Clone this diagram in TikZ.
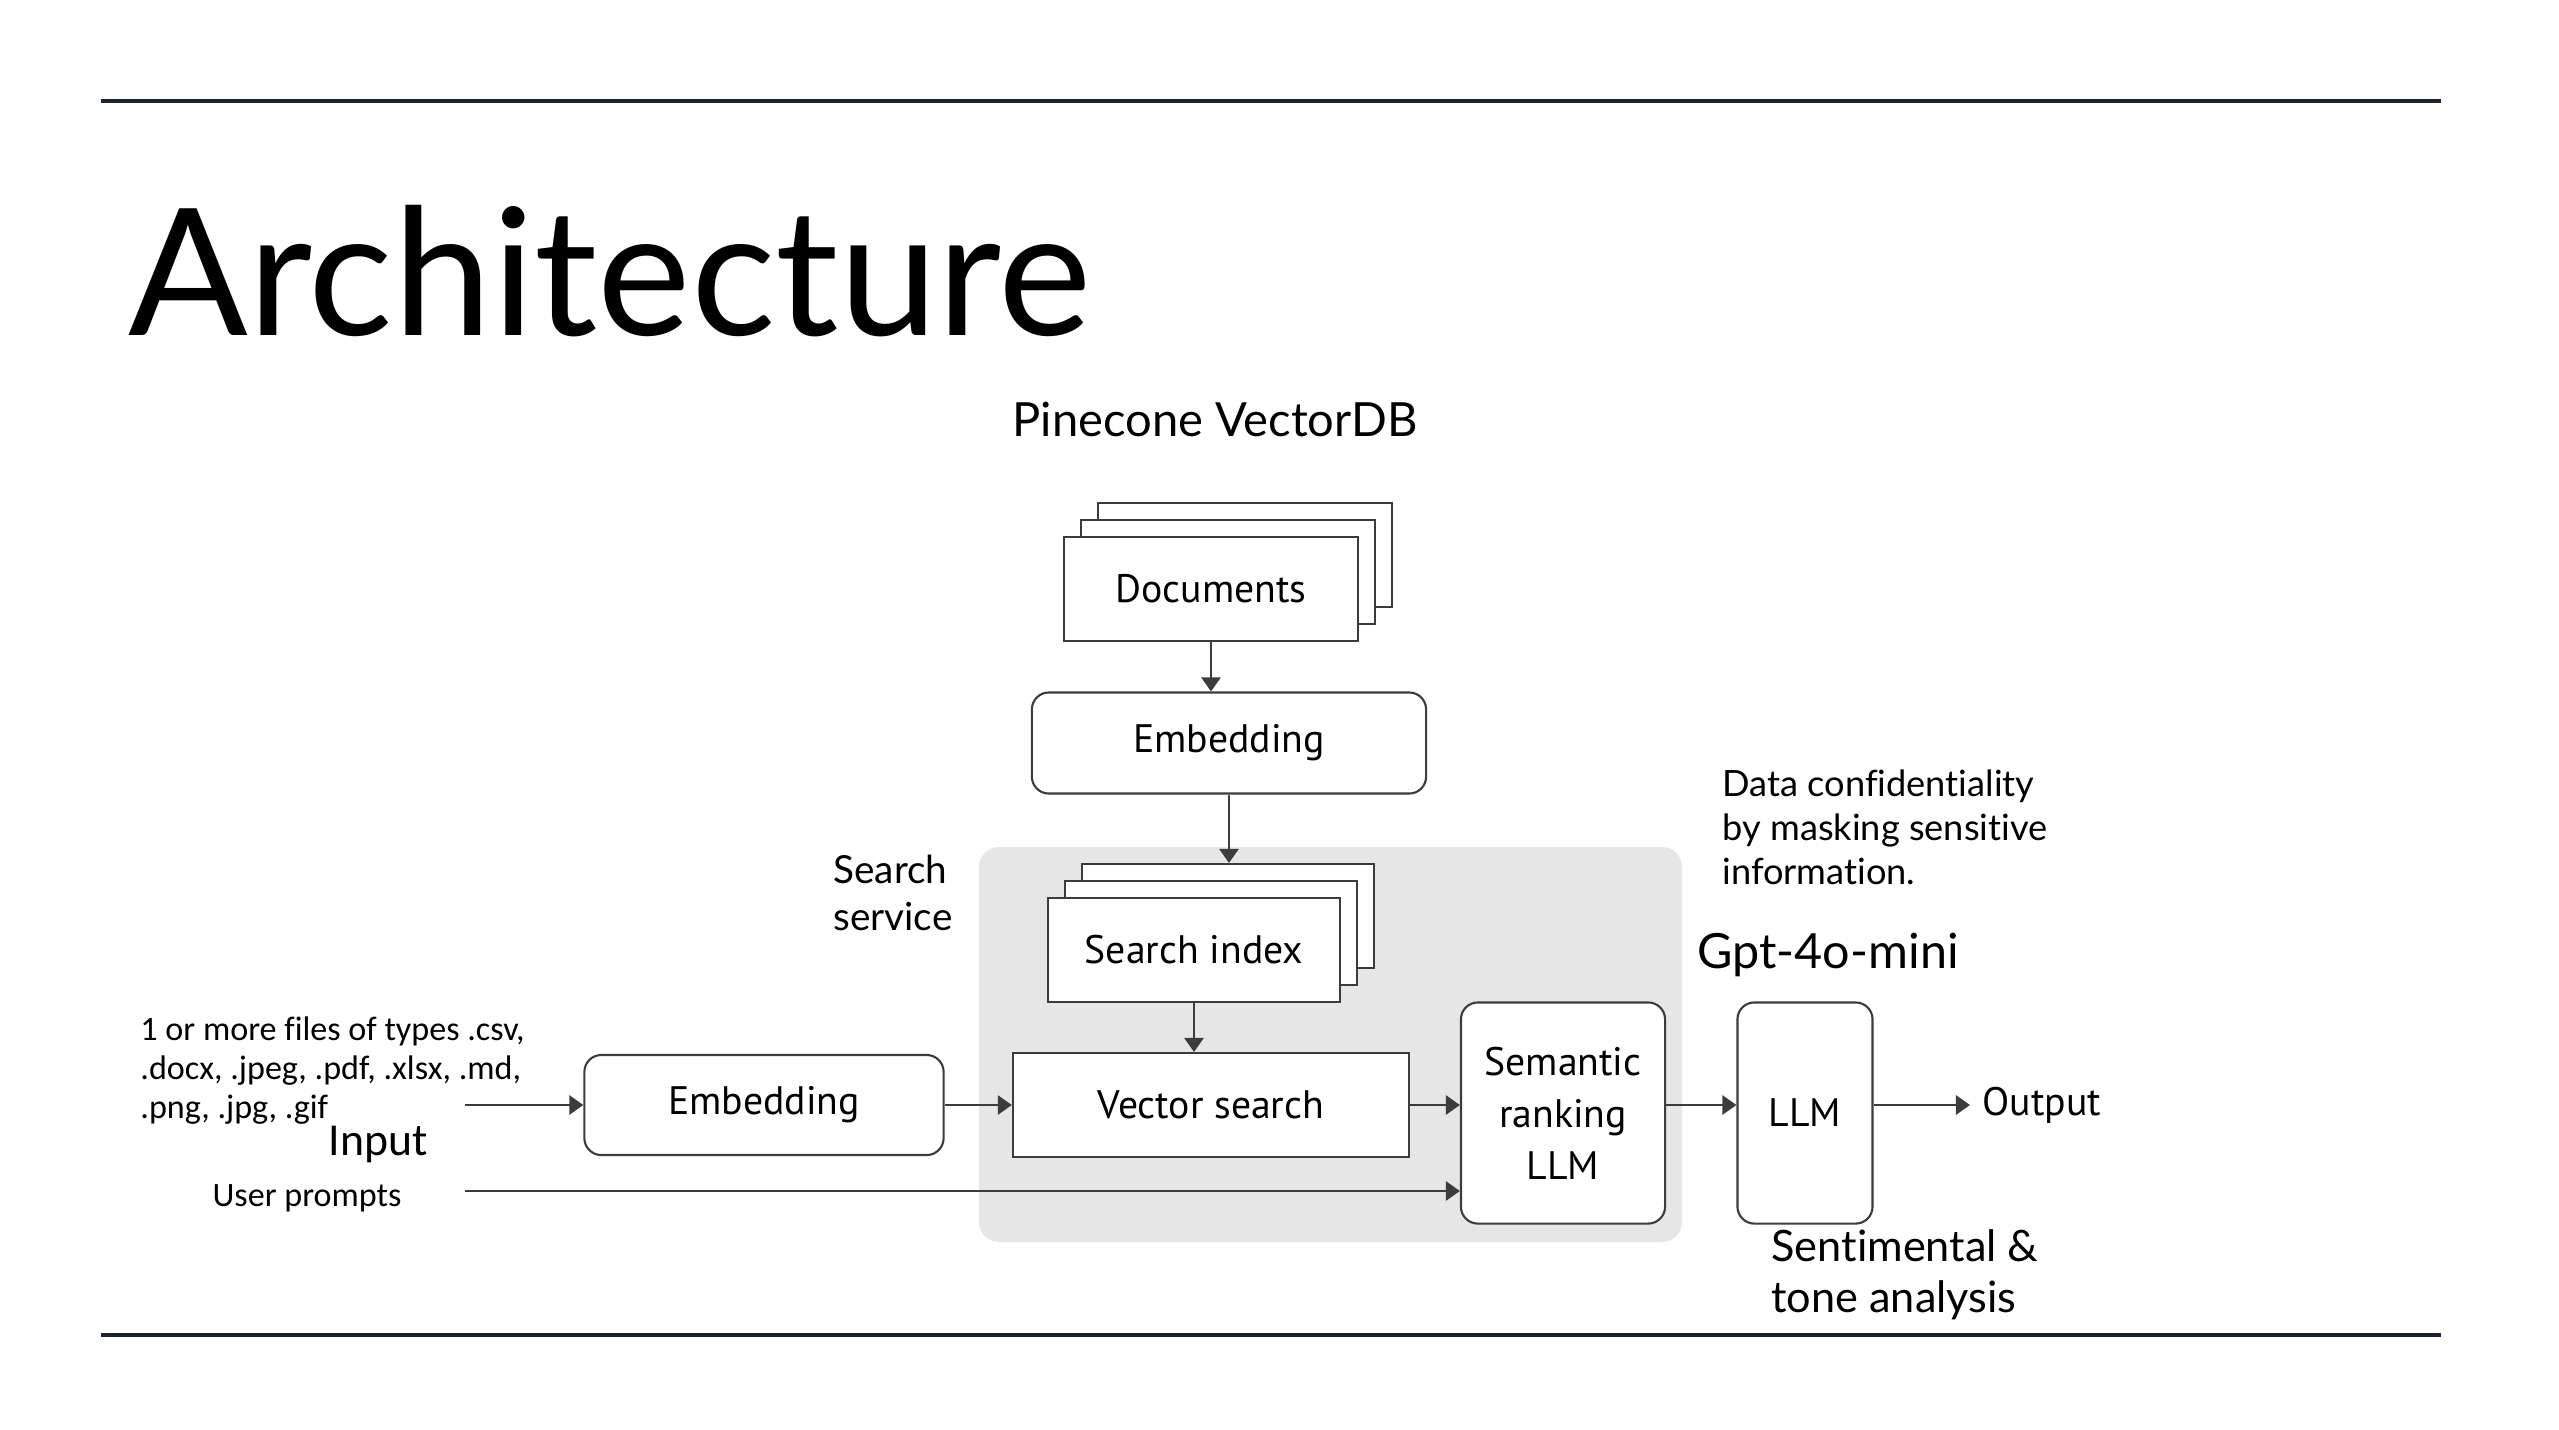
\documentclass[tikz,border=0pt]{standalone}
\usepackage{fontspec}
\setmainfont{Lato}[Ligatures=NoCommon]
\newfontfamily\boxfont{PT Sans}
\newfontfamily\notefont{Carlito}[Ligatures=NoCommon]
\usetikzlibrary{arrows.meta,shadows,calc}
\definecolor{rulenavy}{HTML}{1B2433}
\definecolor{linegray}{HTML}{3C3C3C}
\definecolor{panelgray}{HTML}{E6E6E6}

\begin{document}
\begin{tikzpicture}[x=0.01cm,y=-0.01cm]
  \tikzstyle{arrow} = [line width=0.6pt, draw=linegray, -{Triangle[length=4pt,width=5.5pt]}]
  \tikzstyle{block} = [draw=linegray, line width=0.6pt, fill=white, inner sep=0pt, align=center, font=\boxfont\fontsize{11.3}{14.8}\selectfont]
  \tikzstyle{roundblock} = [block, rounded corners=4.8pt]
  \tikzstyle{stack} = [block,
    copy shadow={shadow xshift=0.34cm, shadow yshift=0.34cm, draw=linegray, line width=0.6pt},
    copy shadow={shadow xshift=0.17cm, shadow yshift=0.17cm, draw=linegray, line width=0.6pt}]
  \tikzstyle{slidetext} = [font=\fontsize{12.3}{14.5}\selectfont]
  \tikzstyle{notetext} = [font=\notefont\fontsize{9.7}{11.1}\selectfont]

  \fill[white] (0,0) rectangle (2559,1429);
  \draw[rulenavy, line width=1.4pt] (101,101) -- (2441,101);
  \draw[rulenavy, line width=1.4pt] (101,1335) -- (2441,1335);

  \node[anchor=base west, inner sep=0pt, font=\fontsize{50.3}{60}\selectfont] (title) at (128,335) {Architecture};

  % search service panel
  \fill[panelgray, rounded corners=5.7pt] (979,847) rectangle (1682,1242);

  \node[slidetext, font=\fontsize{13.4}{16}\selectfont] (pinecone) at (1215,419) {Pinecone VectorDB};
  \node[slidetext, font=\fontsize{11}{13.4}\selectfont, align=left] (service) at (893,893) {Search\\service};
  \node[slidetext, font=\fontsize{10.3}{12.5}\selectfont, align=left, anchor=west] (mask) at (1710,827) {Data confidentiality\\by masking sensitive\\information.};
  \node[slidetext, font=\fontsize{13.8}{16}\selectfont] (gpt) at (1828,955) {Gpt-4o-mini};
  \node[slidetext, align=left, anchor=west] (tone) at (1759,1275) {Sentimental \&\\tone analysis};

  \node[stack, minimum width=2.94cm, minimum height=1.04cm] (docs) at (1211,589) {Documents};
  \node[roundblock, minimum width=3.94cm, minimum height=1.01cm] (embtop) at (1229,743) {Embedding};
  \node[stack, minimum width=2.92cm, minimum height=1.04cm] (index) at (1194,950) {Search index};
  \node[block, minimum width=3.96cm, minimum height=1.04cm] (vsearch) at (1211,1105) {Vector search};
  \node[roundblock, minimum width=3.59cm, minimum height=1.00cm] (embin) at (764,1105) {Embedding};
  \node[roundblock, minimum width=2.04cm, minimum height=2.21cm] (rank) at (1563,1113) {Semantic\\ranking\\LLM};
  \node[roundblock, minimum width=1.35cm, minimum height=2.21cm] (llm) at (1805,1113) {LLM};
  \node[anchor=west, font=\boxfont\fontsize{11.3}{13}\selectfont] (output) at (1970,1105) {Output};

  \node[notetext, align=left, anchor=west] (files) at (128,1071) {1 or more files of types .csv,\\.docx, .jpeg, .pdf, .xlsx, .md,\\.png, .jpg, .gif};
  \node[font=\notefont\fontsize{13}{15}\selectfont] (input) at (378,1144) {Input};
  \node[notetext] (prompts) at (307,1198) {User prompts};
  \coordinate (filetail) at (465,1105);
  \coordinate (prompttail) at (465,1191);

  \draw[arrow] (docs.south) -- (docs.south |- embtop.north);
  \draw[arrow] (embtop.south) -- ($(embtop.south |- index.north)+(0,-34)$);
  \draw[arrow] (index.south) -- (index.south |- vsearch.north);
  \draw[arrow] (filetail) -- (filetail -| embin.west);
  \draw[arrow] (embin.east) -- (vsearch.west);
  \draw[arrow] (vsearch.east) -- (vsearch.east -| rank.west);
  \draw[arrow] (prompttail) -- (prompttail -| rank.west);
  \draw[arrow] (vsearch.east -| rank.east) -- (vsearch.east -| llm.west);
  \draw[arrow] (vsearch.east -| llm.east) -- (output.west);
\end{tikzpicture}
\end{document}
